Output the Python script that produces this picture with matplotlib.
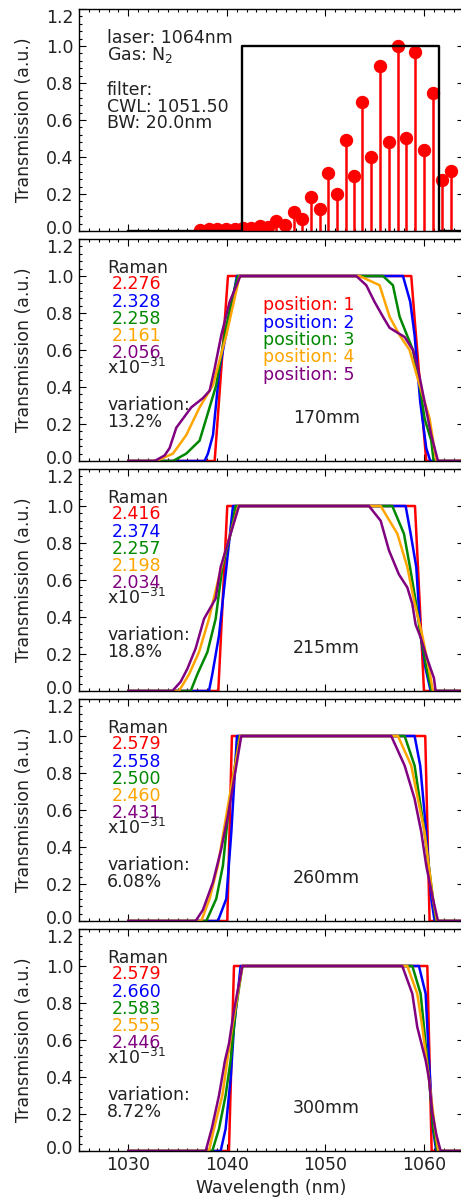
import matplotlib.pyplot as plt
from matplotlib.ticker import FixedLocator, MultipleLocator
from matplotlib.transforms import ScaledTranslation

plt.rcParams['font.family'] = ['DejaVu Sans']
fs = 12.5

colors = ['#ff0000', '#0000ff', '#008800', '#ffa500', '#800080']
yticks = [0.0, 0.2, 0.4, 0.6, 0.8, 1.0, 1.2]
xticks = [1030, 1040, 1050, 1060]

# top panel: N2 rotational Raman lines and the filter box
raman_wl = [1037.30, 1038.18, 1039.02, 1039.94, 1040.78, 1041.63, 1042.40, 1043.32,
            1044.16, 1045.01, 1045.92, 1046.80, 1047.65, 1048.49, 1049.40, 1050.28,
            1051.16, 1052.04, 1052.85, 1053.73, 1054.61, 1055.49, 1056.40, 1057.31,
            1058.19, 1059.11, 1059.98, 1060.89, 1061.81, 1062.69]
raman_int = [0.005, 0.009, 0.009, 0.011, 0.013, 0.018, 0.014, 0.029,
             0.020, 0.052, 0.033, 0.101, 0.065, 0.183, 0.119, 0.315,
             0.199, 0.494, 0.295, 0.700, 0.400, 0.890, 0.479, 1.000,
             0.503, 0.969, 0.439, 0.745, 0.278, 0.327]
filter_wl = [1030, 1041.5, 1041.5, 1061.5, 1061.5, 1065]
filter_t = [0, 0, 1, 1, 0, 0]

# filter transmission at positions 1..5 (red, blue, green, orange, purple)
wl_170 = [
    [1030, 1038.76, 1040.11, 1058.70, 1059.04, 1060.22, 1065],
    [1030, 1037.74, 1038.08, 1038.59, 1039.26, 1041.02, 1057.86, 1058.60, 1059.04, 1059.61, 1060.22, 1060.63, 1065],
    [1030, 1034.53, 1035.88, 1037.23, 1037.91, 1038.92, 1039.77, 1040.45, 1041.12, 1055.83, 1056.84, 1057.52,
     1058.87, 1059.55, 1060.05, 1060.73, 1060.97, 1065],
    [1030, 1032.84, 1034.53, 1035.88, 1037.23, 1038.59, 1039.94, 1041.29, 1053.46, 1055.49, 1056.50, 1057.52,
     1058.53, 1059.55, 1060.56, 1061.24, 1065],
    [1030, 1032.67, 1033.68, 1034.19, 1034.87, 1036.39, 1037.57, 1038.25, 1038.76, 1039.43, 1040.28, 1041.36,
     1053.12, 1054.14, 1054.98, 1055.83, 1056.50, 1058.03, 1058.87, 1059.38, 1060.05, 1060.73, 1061.41, 1065],
]
t_170 = [
    [0, 0, 1, 1, 0.77, 0, 0],
    [0, 0, 0.04, 0.14, 0.50, 1, 1, 0.86, 0.68, 0.32, 0.07, 0, 0],
    [0, 0, 0.04, 0.11, 0.23, 0.41, 0.68, 0.86, 1, 1, 0.95, 0.78, 0.60, 0.41, 0.23, 0.11, 0, 0],
    [0, 0, 0.04, 0.14, 0.29, 0.41, 0.68, 1, 1, 0.95, 0.78, 0.68, 0.60, 0.41, 0.23, 0, 0],
    [0, 0, 0.03, 0.07, 0.18, 0.29, 0.34, 0.38, 0.50, 0.68, 0.86, 1, 1, 0.95, 0.86, 0.78, 0.72, 0.67,
     0.60, 0.50, 0.32, 0.14, 0, 0],
]

wl_215 = [
    [1030, 1039.13, 1040.04, 1059.08, 1059.99, 1065],
    [1030, 1038.18, 1038.52, 1039.20, 1040.62, 1058.13, 1058.64, 1059.21, 1059.65, 1060.16, 1060.67, 1065],
    [1030, 1036.33, 1037.00, 1038.02, 1038.86, 1039.54, 1040.38, 1040.89, 1056.78, 1057.96, 1058.57, 1059.14,
     1059.65, 1060.26, 1060.77, 1065],
    [1030, 1035.14, 1036.16, 1037.17, 1038.18, 1039.03, 1039.87, 1041.16, 1055.60, 1057.29, 1058.30, 1058.98,
     1059.82, 1060.50, 1060.90, 1065],
    [1030, 1034.47, 1035.31, 1035.99, 1036.83, 1037.68, 1038.86, 1039.37, 1040.38, 1041.23, 1054.41, 1055.60,
     1056.44, 1057.45, 1058.30, 1058.81, 1059.14, 1059.65, 1060.16, 1060.67, 1061.00, 1061.17, 1065],
]
t_215 = [
    [0, 0, 1, 1, 0, 0],
    [0, 0, 0.09, 0.30, 1, 1, 0.85, 0.67, 0.30, 0.12, 0, 0],
    [0, 0, 0.09, 0.21, 0.39, 0.67, 0.85, 1, 1, 0.85, 0.67, 0.49, 0.30, 0.12, 0, 0],
    [0, 0, 0.09, 0.21, 0.39, 0.58, 0.76, 1, 1, 0.85, 0.67, 0.49, 0.30, 0.12, 0, 0],
    [0, 0, 0.05, 0.12, 0.23, 0.39, 0.50, 0.67, 0.85, 1, 1, 0.92, 0.76, 0.63, 0.56, 0.47, 0.36, 0.29,
     0.20, 0.12, 0.07, 0, 0],
]

wl_260 = [
    [1030, 1040.04, 1040.51, 1060.12, 1060.56, 1065],
    [1030, 1039.09, 1039.94, 1040.45, 1041.02, 1059.04, 1059.61, 1060.22, 1060.73, 1061.07, 1065],
    [1030, 1037.91, 1038.92, 1039.60, 1040.28, 1041.29, 1058.03, 1059.04, 1060.05, 1060.90, 1061.24, 1065],
    [1030, 1037.40, 1038.25, 1039.09, 1039.94, 1041.36, 1057.35, 1058.70, 1060.05, 1060.90, 1061.31, 1065],
    [1030, 1036.83, 1037.57, 1038.59, 1039.43, 1040.11, 1041.46, 1056.67, 1058.03, 1059.04, 1059.72,
     1060.22, 1060.90, 1061.41, 1065],
]
t_260 = [
    [0, 0, 1, 1, 0, 0],
    [0, 0, 0.12, 0.48, 1, 1, 0.84, 0.48, 0.12, 0, 0],
    [0, 0, 0.12, 0.30, 0.66, 1, 1, 0.84, 0.48, 0.12, 0, 0],
    [0, 0, 0.12, 0.30, 0.57, 1, 1, 0.84, 0.48, 0.12, 0, 0],
    [0, 0, 0.06, 0.21, 0.39, 0.57, 1, 1, 0.84, 0.66, 0.48, 0.30, 0.12, 0, 0],
]

wl_300 = [
    [1030, 1040.21, 1040.72, 1060.33, 1060.77, 1065],
    [1030, 1039.37, 1039.87, 1040.38, 1040.72, 1041.40, 1059.48, 1060.16, 1060.50, 1060.90, 1061.24, 1065],
    [1030, 1038.52, 1039.20, 1039.87, 1040.38, 1040.89, 1041.57, 1058.81, 1059.65, 1059.99, 1060.50,
     1060.94, 1061.34, 1065],
    [1030, 1038.18, 1038.69, 1039.54, 1040.04, 1040.55, 1041.57, 1058.30, 1059.31, 1059.82, 1060.50,
     1061.11, 1061.44, 1065],
    [1030, 1037.85, 1038.46, 1039.20, 1039.81, 1040.21, 1040.72, 1041.57, 1057.79, 1058.81, 1059.31,
     1060.16, 1060.50, 1060.83, 1061.24, 1061.68, 1065],
]
t_300 = [
    [0, 0, 1, 1, 0, 0],
    [0, 0, 0.12, 0.39, 0.67, 1, 1, 0.85, 0.49, 0.12, 0, 0],
    [0, 0, 0.12, 0.30, 0.49, 0.76, 1, 1, 0.85, 0.67, 0.39, 0.12, 0, 0],
    [0, 0, 0.12, 0.30, 0.49, 0.67, 1, 1, 0.85, 0.67, 0.39, 0.12, 0, 0],
    [0, 0, 0.12, 0.30, 0.49, 0.58, 0.76, 1, 1, 0.85, 0.67, 0.49, 0.39, 0.21, 0.09, 0, 0],
]

distances = ['170mm', '215mm', '260mm', '300mm']
raman_cs = [
    [2.276, 2.328, 2.258, 2.161, 2.056],
    [2.416, 2.374, 2.257, 2.198, 2.034],
    [2.579, 2.558, 2.500, 2.460, 2.431],
    [2.579, 2.660, 2.583, 2.555, 2.446],
]
variations = ['13.2%', '18.8%', '6.08%', '8.72%']
curves_wl = [wl_170, wl_215, wl_260, wl_300]
curves_t = [t_170, t_215, t_260, t_300]

fig = plt.figure(figsize=(4.61, 12), dpi=100)
ph = 222.0  # panel height in px
txt_color = '#222222'


def ty(d):
    # baseline position measured in px from the panel top
    return 1 - d / ph


axes = []
for k in range(5):
    ax = fig.add_axes([79 / 461, 1 - (231 + 230 * k) / 1200, 384.5 / 461, ph / 1200])
    ax.set_xlim(1025, 1064)
    ax.set_ylim(0, 1.2)
    ax.xaxis.set_major_locator(FixedLocator(xticks))
    ax.xaxis.set_minor_locator(MultipleLocator(1))
    ax.yaxis.set_major_locator(FixedLocator(yticks))
    ax.yaxis.set_minor_locator(MultipleLocator(0.04))
    ax.set_yticklabels(['%.1f' % v for v in yticks])
    ax.tick_params(which='both', direction='in', top=True, right=True, width=0.8,
                   labelsize=fs, labelcolor=txt_color)
    ax.tick_params(which='major', length=5)
    ax.tick_params(which='minor', length=2.5)
    ax.tick_params(axis='y', pad=4)
    for s in ax.spines.values():
        s.set_linewidth(1.0)
    if k < 4:
        ax.tick_params(labelbottom=False)
    ax.set_ylabel('Transmission (a.u.)', fontsize=fs, color=txt_color)
    ax.yaxis.set_label_coords(-0.12, 0.5)
    ticks = ax.yaxis.get_major_ticks()
    ticks[0].label1.set_transform(ticks[0].label1.get_transform()
                                  + ScaledTranslation(0, 0.043, fig.dpi_scale_trans))
    ticks[-1].label1.set_transform(ticks[-1].label1.get_transform()
                                   + ScaledTranslation(0, -0.07, fig.dpi_scale_trans))
    axes.append(ax)

# panel 1
ax = axes[0]
markerline, stemlines, baseline = ax.stem(raman_wl, raman_int, linefmt='-', markerfmt='o', basefmt=' ')
plt.setp(stemlines, color='red', linewidth=1.8)
plt.setp(markerline, color='red', markersize=8.6)
baseline.set_visible(False)
ax.plot(filter_wl, filter_t, color='black', lw=1.7)
for txt, d in [('laser: 1064nm', 34.3), ('Gas: N$_2$', 51), ('filter:', 86),
               ('CWL: 1051.50', 102.7), ('BW: 20.0nm', 119.3)]:
    ax.text(0.073, ty(d), txt, transform=ax.transAxes, fontsize=fs, va='baseline', color=txt_color)

# panels 2-5
for k in range(4):
    ax = axes[k + 1]
    for i in range(5):
        ax.plot(curves_wl[k][i], curves_t[k][i], color=colors[i], lw=1.8)
    ax.text(0.073, ty(33.6), 'Raman', transform=ax.transAxes, fontsize=fs, va='baseline', color=txt_color)
    for i in range(5):
        ax.text(0.086, ty(50.3 + 17.25 * i), '%.3f' % raman_cs[k][i], color=colors[i],
                transform=ax.transAxes, fontsize=fs, va='baseline')
    ax.text(0.073, ty(135.3), 'x10$^{-31}$', transform=ax.transAxes, fontsize=fs, va='baseline',
            color=txt_color)
    ax.text(0.073, ty(171.3), 'variation:', transform=ax.transAxes, fontsize=fs, va='baseline',
            color=txt_color)
    ax.text(0.073, ty(188), variations[k], transform=ax.transAxes, fontsize=fs, va='baseline',
            color=txt_color)
    ax.text(0.644, ty(183.6), distances[k], transform=ax.transAxes, fontsize=fs,
            va='baseline', ha='center', color=txt_color)

for i in range(5):
    axes[1].text(0.479, ty(71.3 + 17.4 * i), 'position: %d' % (i + 1), color=colors[i],
                 transform=axes[1].transAxes, fontsize=fs, va='baseline')

axes[4].set_xlabel('Wavelength (nm)', fontsize=fs, labelpad=4, color=txt_color)

fig.savefig('out.png', dpi=100)
